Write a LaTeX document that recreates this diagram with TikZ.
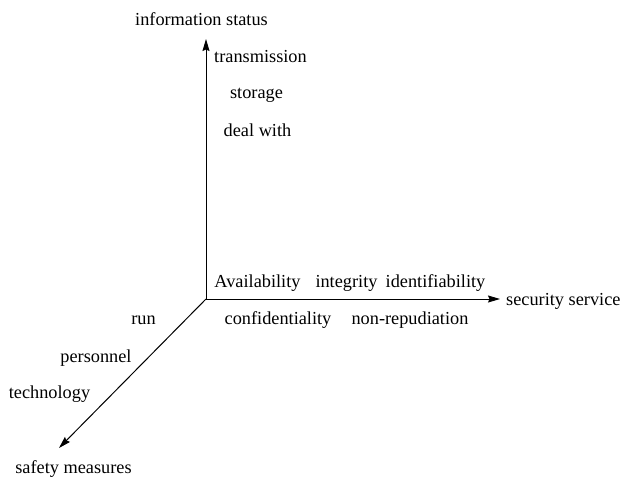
\documentclass[tikz,border=0pt]{standalone}
\usepackage{fontspec}
\setmainfont{Liberation Serif}
\usetikzlibrary{arrows.meta}
\begin{document}
\begin{tikzpicture}[x=1pt,y=-1pt,
  axis/.style={line width=1pt,-{Stealth[length=12pt,width=7pt,inset=1.5pt]}},
  lbl/.style={inner sep=0pt,anchor=base,font=\fontsize{18.3}{22}\selectfont}]
\useasboundingbox (0,0) rectangle (620,478);

% origin and axis end points
\coordinate (o) at (206,299);
\coordinate (up) at (206,39);
\coordinate (right) at (500,299);
\coordinate (down) at (59,448);

\draw[axis] (o) -- (up);
\draw[axis] (o) -- (right);
\draw[axis] (o) -- (down);

% axis titles
\node[lbl] (tinfo) at (201.5,26) {information status};
\node[lbl,anchor=base west] (tsec) at (506,305) {security service};
\node[lbl] (tsafe) at (73.5,473) {safety measures};

% information status
\node[lbl] (trans) at (260.5,63) {transmission};
\node[lbl] (stor) at (256.5,99) {storage};
\node[lbl] (deal) at (257.5,137) {deal with};

% security service
\node[lbl] (avail) at (257.5,287) {Availability};
\node[lbl] (integ) at (346.5,287) {integrity};
\node[lbl] (ident) at (435.5,287) {identifiability};
\node[lbl] (conf) at (278,324) {confidentiality};
\node[lbl] (nonrep) at (410,324) {non-repudiation};

% safety measures
\node[lbl] (run) at (143.5,324) {run};
\node[lbl] (pers) at (96,362) {personnel};
\node[lbl] (tech) at (49.5,398) {technology};
\end{tikzpicture}
\end{document}
